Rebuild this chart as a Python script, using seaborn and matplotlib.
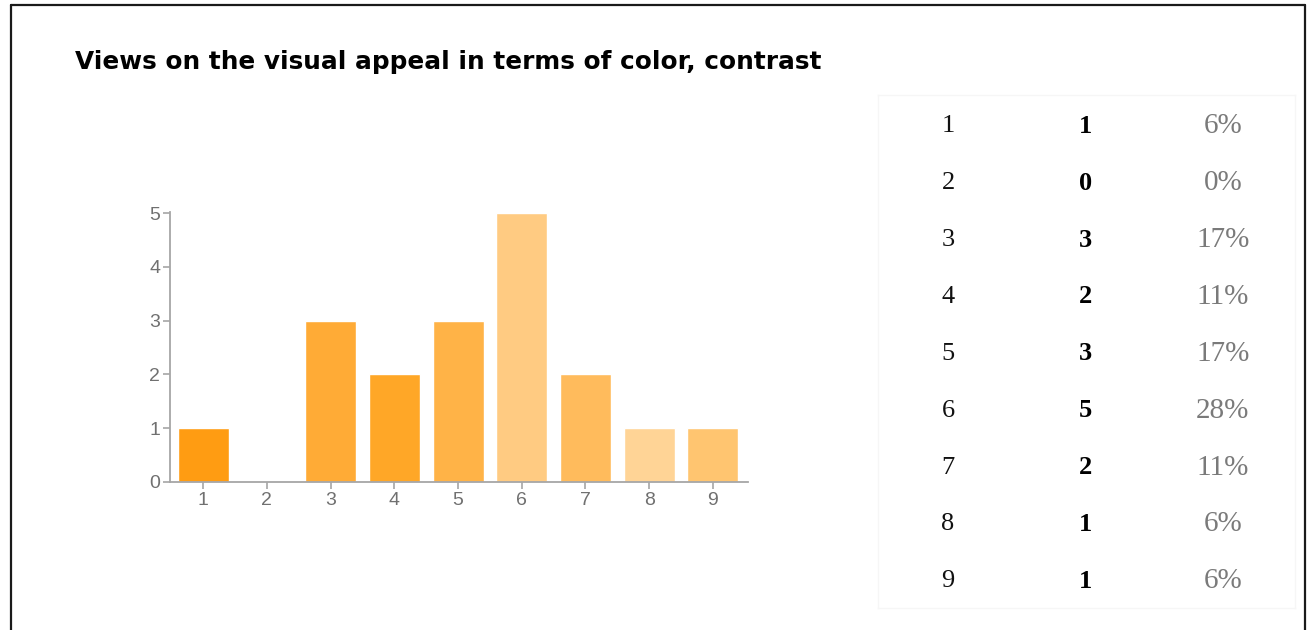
import matplotlib
matplotlib.use("Agg")
import matplotlib.pyplot as plt
from matplotlib.lines import Line2D
import seaborn as sns
import pandas as pd

# Survey answers: rating scale 1-9 and number of respondents per rating
ratings = ["1", "2", "3", "4", "5", "6", "7", "8", "9"]
counts = [1, 0, 3, 2, 3, 5, 2, 1, 1]
bar_colors = ["#FF9C12", "#FFA726", "#FFAB36", "#FFA727", "#FFB347",
              "#FFCB82", "#FFBB5C", "#FFD496", "#FFC570"]
y_ticks = [0, 1, 2, 3, 4, 5]
title = "Views on the visual appeal in terms of color, contrast"

total = sum(counts)
percents = [f"{round(100 * c / total)}%" for c in counts]

sns.set_theme(style="white")
plt.rcParams["font.family"] = ["Liberation Sans", "DejaVu Sans"]

W, H = 1309, 630
fig = plt.figure(figsize=(W / 100, H / 100), dpi=100)
fig.patch.set_facecolor("white")


def fx(px):
    return px / W


def fy(py):
    return 1 - py / H


# frame around the slide (left, top, right edges)
for xs, ys in [((11, 11), (5, H)), ((11, 1305), (5, 5)), ((1305, 1305), (5, H))]:
    fig.add_artist(Line2D([fx(x) for x in xs], [fy(y) for y in ys],
                          transform=fig.transFigure, color="#1a1a1a", lw=1.6))

fig.text(fx(75), fy(62), title, fontsize=17.8, fontweight="bold",
         family=["DejaVu Sans"], color="black", ha="left", va="center")

# ---- bar chart ----
ax = fig.add_axes([fx(170), fy(482), fx(748) - fx(170), fy(212) - fy(482)])
df = pd.DataFrame({"rating": ratings, "count": counts})
sns.barplot(data=df, x="rating", y="count", hue="rating", palette=bar_colors,
            order=ratings, hue_order=ratings, width=0.8, legend=False,
            saturation=1, ax=ax)
ax.set_xlim(-0.52, 8.55)
ax.set_ylim(0, 5.02)
ax.set_yticks(y_ticks)
ax.set_xlabel("")
ax.set_ylabel("")
for s in ["top", "right"]:
    ax.spines[s].set_visible(False)
for s in ["left", "bottom"]:
    ax.spines[s].set_color("#a6a6a6")
    ax.spines[s].set_linewidth(1.3)
ax.tick_params(axis="both", which="both", direction="out", length=5,
               width=1.2, color="#a6a6a6", labelcolor="#707070",
               labelsize=14, pad=2, left=True, bottom=True)
ax.set_facecolor("white")

# ---- summary table ----
tax = fig.add_axes([fx(878), fy(608), fx(1295) - fx(878), fy(95) - fy(608)])
tax.set_xlim(0, 1)
tax.set_ylim(8.51, -0.51)
tax.set_xticks([])
tax.set_yticks([])
for s in tax.spines.values():
    s.set_color("#f6f6f6")
    s.set_linewidth(1.0)
serif = ["Liberation Serif", "DejaVu Serif"]
for i, (r, c, p) in enumerate(zip(ratings, counts, percents)):
    tax.text(0.168, i + 0.04, r, ha="center", va="center", fontsize=19,
             family=serif, color="#111111")
    tax.text(0.497, i + 0.04, str(c), ha="center", va="center", fontsize=19,
             family=serif, fontweight="bold", color="#000000")
    tax.text(0.827, i + 0.04, p, ha="center", va="center", fontsize=21,
             family=serif, color="#7a7a7a")

fig.savefig("out.png", dpi=100)
